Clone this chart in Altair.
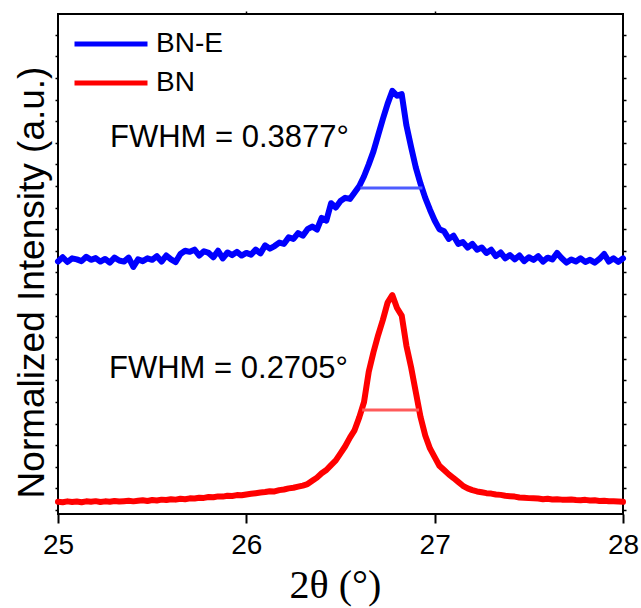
import altair as alt
import pandas as pd

# ---------------- data ----------------
two_theta = [
    25.000, 25.025, 25.050, 25.075, 25.100, 25.125, 25.150, 25.175, 25.200, 25.225,
    25.250, 25.275, 25.300, 25.325, 25.350, 25.375, 25.400, 25.425, 25.450, 25.475,
    25.500, 25.525, 25.550, 25.575, 25.600, 25.625, 25.650, 25.675, 25.700, 25.725,
    25.750, 25.775, 25.800, 25.825, 25.850, 25.875, 25.900, 25.925, 25.950, 25.975,
    26.000, 26.025, 26.050, 26.075, 26.100, 26.125, 26.150, 26.175, 26.200, 26.225,
    26.250, 26.275, 26.300, 26.325, 26.350, 26.375, 26.400, 26.425, 26.450, 26.475,
    26.500, 26.525, 26.550, 26.575, 26.600, 26.625, 26.650, 26.675, 26.700, 26.725,
    26.750, 26.775, 26.800, 26.825, 26.850, 26.875, 26.900, 26.925, 26.950, 26.975,
    27.000, 27.025, 27.050, 27.075, 27.100, 27.125, 27.150, 27.175, 27.200, 27.225,
    27.250, 27.275, 27.300, 27.325, 27.350, 27.375, 27.400, 27.425, 27.450, 27.475,
    27.500, 27.525, 27.550, 27.575, 27.600, 27.625, 27.650, 27.675, 27.700, 27.725,
    27.750, 27.775, 27.800, 27.825, 27.850, 27.875, 27.900, 27.925, 27.950, 27.975,
    28.000,
]

bne_intensity = [
    1.150, 1.170, 1.148, 1.165, 1.160, 1.152, 1.172, 1.158, 1.166, 1.150,
    1.162, 1.145, 1.168, 1.155, 1.150, 1.168, 1.125, 1.160, 1.152, 1.165,
    1.158, 1.175, 1.150, 1.178, 1.160, 1.148, 1.185, 1.200, 1.195, 1.205,
    1.178, 1.198, 1.190, 1.170, 1.200, 1.165, 1.192, 1.180, 1.195, 1.178,
    1.190, 1.182, 1.205, 1.188, 1.225, 1.210, 1.222, 1.238, 1.232, 1.262,
    1.255, 1.282, 1.270, 1.300, 1.312, 1.298, 1.352, 1.340, 1.420, 1.400,
    1.430, 1.445, 1.440, 1.470, 1.500, 1.545, 1.600, 1.660, 1.735, 1.810,
    1.880, 1.940, 1.918, 1.925, 1.780, 1.680, 1.585, 1.510, 1.445, 1.390,
    1.340, 1.300, 1.290, 1.255, 1.270, 1.232, 1.240, 1.215, 1.232, 1.205,
    1.215, 1.190, 1.205, 1.175, 1.192, 1.165, 1.180, 1.160, 1.178, 1.152,
    1.170, 1.158, 1.175, 1.150, 1.168, 1.160, 1.190, 1.165, 1.145, 1.160,
    1.150, 1.165, 1.148, 1.158, 1.145, 1.162, 1.185, 1.150, 1.165, 1.148,
    1.165,
]

bn_intensity = [
    0.038, 0.036, 0.040, 0.037, 0.039, 0.036, 0.040, 0.038, 0.041, 0.037,
    0.040, 0.038, 0.042, 0.039, 0.041, 0.043, 0.040, 0.043, 0.045, 0.042,
    0.046, 0.044, 0.048, 0.046, 0.050, 0.048, 0.052, 0.050, 0.054, 0.053,
    0.057, 0.056, 0.060, 0.059, 0.063, 0.062, 0.066, 0.065, 0.069, 0.068,
    0.072, 0.075, 0.078, 0.081, 0.083, 0.087, 0.086, 0.092, 0.095, 0.100,
    0.103, 0.108, 0.113, 0.120, 0.135, 0.150, 0.170, 0.185, 0.208, 0.230,
    0.262, 0.295, 0.335, 0.370, 0.430, 0.500, 0.640, 0.730, 0.810, 0.880,
    0.960, 0.995, 0.935, 0.900, 0.760, 0.660, 0.545, 0.430, 0.345, 0.285,
    0.245, 0.205, 0.185, 0.165, 0.148, 0.130, 0.112, 0.100, 0.092, 0.086,
    0.082, 0.078, 0.076, 0.072, 0.070, 0.066, 0.064, 0.062, 0.058, 0.057,
    0.055, 0.054, 0.053, 0.050, 0.052, 0.049, 0.050, 0.048, 0.047, 0.049,
    0.046, 0.045, 0.047, 0.044, 0.045, 0.042, 0.043, 0.041, 0.040, 0.039,
    0.038,
]

series_names = ["BN-E", "BN"]
series_colors = ["#0000ff", "#ff0000"]

fwhm_series = ["BN-E", "BN"]
fwhm_start = [26.606, 26.615]
fwhm_end = [26.935, 26.917]
fwhm_level = [1.49, 0.463]
fwhm_colors = ["#4d5cff", "#ff5a5a"]

note_text = ["FWHM = 0.3877°", "FWHM = 0.2705°"]
note_x = [25.276, 25.271]
note_y = [1.68, 0.611]

x_ticks = [25, 26, 27, 28]
y_ticks = [round(i * 0.1, 1) for i in range(0, 23)]

# ---------------- tables ----------------
df = pd.concat([
    pd.DataFrame({"x": two_theta, "v": bne_intensity, "series": "BN-E"}),
    pd.DataFrame({"x": two_theta, "v": bn_intensity, "series": "BN"}),
])
df_fwhm = pd.DataFrame({"s": fwhm_series, "x1": fwhm_start, "x2": fwhm_end, "v": fwhm_level})
df_note = pd.DataFrame({"t": note_text, "x": note_x, "v": note_y})

FONT = "Liberation Sans"
xscale = alt.Scale(domain=[25, 28], nice=False, zero=False)
yscale = alt.Scale(domain=[-0.0185, 2.296], nice=False, zero=False)

bottom_axis = alt.Axis(
    values=x_ticks, tickSize=9, tickWidth=2, labelFontSize=28, labelFont=FONT,
    labelPadding=8, labelFlush=False, labelOverlap=False, format="d",
    title="2θ (°)", titleFont="Liberation Serif", titleFontSize=40,
    titleFontWeight="normal", titleX=277, titleY=83, titleBaseline="alphabetic",
    titleAlign="center", grid=False, domain=False,
)
left_axis = alt.Axis(
    values=y_ticks, tickSize=3, tickWidth=1.5, labels=False, grid=False, domain=False,
    title="Normalized Intensity (a.u.)", titleFont=FONT, titleFontSize=37,
    titleFontWeight="normal", titleAngle=270, titleX=-15, titleY=268,
    titleBaseline="alphabetic", titleAlign="center",
)
right_axis = alt.Axis(
    orient="right", values=y_ticks, tickSize=3, tickWidth=1.5, labels=False,
    grid=False, domain=False, title=None,
)
top_axis = alt.Axis(
    orient="top", values=[26, 27], tickSize=3, tickWidth=1.5, labels=False,
    grid=False, domain=False, title=None,
)

lines = alt.Chart(df).mark_line(strokeWidth=6, strokeJoin="round", strokeCap="round").encode(
    x=alt.X("x:Q", scale=xscale, axis=bottom_axis),
    y=alt.Y("v:Q", scale=yscale, axis=left_axis),
    color=alt.Color(
        "series:N",
        scale=alt.Scale(domain=series_names, range=series_colors),
        sort=series_names,
        legend=alt.Legend(
            orient="none", legendX=38, legendY=15, title=None,
            symbolType="M-3,0H3", symbolSize=592, symbolStrokeWidth=5,
            labelFontSize=28, labelFont=FONT, labelColor="black",
            labelOffset=30, rowPadding=10, padding=0,
        ),
    ),
    detail="series:N",
)

rule_bne = alt.Chart(df_fwhm).transform_filter(alt.datum.s == "BN-E").mark_rule(
    strokeWidth=3, color=fwhm_colors[0]
).encode(
    x=alt.X("x1:Q", scale=xscale, axis=top_axis),
    x2="x2:Q",
    y=alt.Y("v:Q", scale=yscale, axis=right_axis),
)
rule_bn = alt.Chart(df_fwhm).transform_filter(alt.datum.s == "BN").mark_rule(
    strokeWidth=3, color=fwhm_colors[1]
).encode(
    x=alt.X("x1:Q", scale=xscale, axis=None),
    x2="x2:Q",
    y=alt.Y("v:Q", scale=yscale, axis=None),
)

notes = alt.Chart(df_note).mark_text(
    align="left", baseline="alphabetic", fontSize=31, font=FONT, color="black"
).encode(
    x=alt.X("x:Q", scale=xscale, axis=None),
    y=alt.Y("v:Q", scale=yscale, axis=None),
    text="t:N",
)

chart = alt.layer(lines, rule_bne, rule_bn, notes).resolve_axis(
    x="independent", y="independent"
).properties(
    width=565, height=500,
    autosize=alt.AutoSizeParams(type="none"),
    padding={"left": 58, "top": 14, "right": 18, "bottom": 94},
).configure_view(
    stroke="black", strokeWidth=2
).configure_axis(
    tickColor="black", labelColor="black", titleColor="black"
)

chart.save("out.html", embed_options={"renderer": "svg", "actions": False})
